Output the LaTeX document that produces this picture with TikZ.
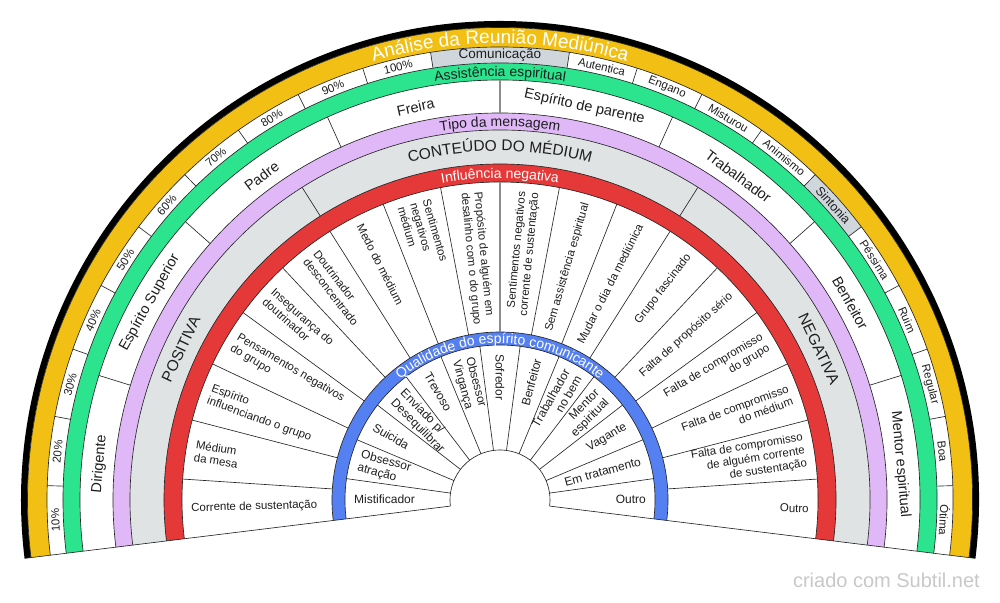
\documentclass[tikz,border=0pt]{standalone}
\usepackage{fontspec}
\setmainfont{Liberation Sans}
\usetikzlibrary{decorations.text}
\definecolor{cYel}{HTML}{F2C014}
\definecolor{cGrn}{HTML}{2CE48E}
\definecolor{cPur}{HTML}{E0B8F8}
\definecolor{cGry}{HTML}{DFE3E3}
\definecolor{cHdr}{HTML}{CFD6DC}
\definecolor{cRed}{HTML}{E53838}
\definecolor{cBlu}{HTML}{5580F2}
\definecolor{cTxt}{HTML}{1E1E1E}
\definecolor{cWm}{HTML}{C8C8C8}
\newcommand{\annfill}[5]{\fill[#5] (#1:#4) arc[start angle=#1, end angle=#2, radius=#4] -- (#2:#3) arc[start angle=#2, end angle=#1, radius=#3] -- cycle;}
\newcommand{\arctext}[4]{\path[decorate, decoration={text along path, text={|\fontsize{#2}{#2}\selectfont|#4}, text align=center, text color=#3}] (175:#1) arc[start angle=175, end angle=5, radius=#1];}
\begin{document}
\begin{tikzpicture}[x=1pt,y=1pt,
 ln/.style={line width=0.65pt, draw=black!85},
 midln/.style={line width=1.1pt, draw=black!45},
 lbl/.style={text=cTxt, inner sep=0pt},
 pct/.style={lbl, font=\fontsize{11.5}{12}\selectfont},
 pers/.style={lbl, font=\fontsize{14.5}{16}\selectfont},
 infl/.style={lbl, font=\fontsize{11.5}{13}\selectfont},
 spir/.style={lbl, font=\fontsize{12}{13.5}\selectfont}]
\useasboundingbox (-500,-102) rectangle (500,500);

% ---- ring fills
\annfill{-7}{187}{472.5}{479}{black}
\annfill{-7}{187}{453}{472.5}{cYel}
\annfill{98.818}{81.182}{437}{453}{cHdr}
\annfill{45.909}{37.091}{437}{453}{cHdr}
\annfill{-7}{187}{420}{437}{cGrn}
\annfill{-7}{187}{370}{387}{cPur}
\annfill{-7}{187}{336}{370}{cGry}
\annfill{-7}{187}{318}{336}{cRed}
\annfill{-7}{187}{155}{168}{cBlu}

% ---- ring outlines
\foreach \r in {50,155,168,318,336,370,387,420,437,453,472.5}
  \draw[ln] (-7:\r) arc[start angle=-7, end angle=187, radius=\r];
\draw[ln] (-7:50) -- (-7:479);
\draw[ln] (187:50) -- (187:479);

% ---- dividers
\foreach \k in {1,...,10,12,13,...,21}
  \draw[ln] ({187-\k*194/22}:437) -- ({187-\k*194/22}:453);
\foreach \k in {1,2,3,5,6,7}
  \draw[ln] ({187-\k*24.25}:387) -- ({187-\k*24.25}:420);
\draw[midln] (90:387) -- (90:420);
\draw[ln] (122.333:336) -- (122.333:370);
\draw[ln] (57.667:336) -- (57.667:370);
\foreach \k in {1,...,8,10,11,...,17}
  \draw[ln] ({187-\k*194/18}:168) -- ({187-\k*194/18}:318);
\draw[midln] (90:168) -- (90:318);
\foreach \k in {1,...,12}
  \draw[ln] ({187-\k*194/13}:50) -- ({187-\k*194/13}:155);

% ---- curved headers
\arctext{456.5}{19}{white}{Análise da Reunião Mediúnica}
\arctext{423.5}{14}{cTxt}{Assistência espiritual}
\arctext{373.5}{14}{cTxt}{Tipo da mensagem}
\arctext{349}{15.5}{cTxt}{CONTEÚDO DO MÉDIUM}
\arctext{322}{14}{white}{Influência negativa}
\arctext{156.5}{14}{white}{Qualidade do espírito comunicante}

% ---- percent ring
\foreach \p [count=\k] in {10,20,...,100}{
  \pgfmathsetmacro\a{187-(\k-0.5)*194/22}
  \node[pct, rotate=\a-90] (pc\k) at (\a:445) {\p\%};
}
\node[lbl, font=\fontsize{13.5}{14}\selectfont] (com) at (90:444.5) {Comunicação};
\foreach \t/\j [count=\k] in {Autentica/12.5, Engano/13.5, Misturou/14.5, Animismo/15.5, Péssima/17.5, Ruim/18.5, Regular/19.5, Boa/20.5, Ótima/21.5}{
  \pgfmathsetmacro\a{187-\j*194/22}
  \node[pct, rotate=\a-90] (pr\k) at (\a:445) {\t};
}
\node[lbl, font=\fontsize{12.5}{13}\selectfont, rotate={187-16.5*194/22-90}] (sin) at ({187-16.5*194/22}:445) {Sintonia};

% ---- person ring
\foreach \t [count=\k] in {Dirigente, Espírito Superior, Padre, Freira, Espírito de parente, Trabalhador, Benfeitor, Mentor espiritual}{
  \pgfmathsetmacro\a{187-(\k-0.5)*24.25}
  \node[pers, rotate=\a-90] (ps\k) at (\a:402) {\t};
}

% ---- content ring
\node[lbl, font=\fontsize{15.5}{16}\selectfont, rotate=64.667] (pos) at (154.667:353) {POSITIVA};
\node[lbl, font=\fontsize{15.5}{16}\selectfont, rotate=-64.667] (neg) at (25.333:353) {NEGATIVA};

% ---- influence ring
\foreach \t [count=\k] in {Corrente de sustentação, Médium\\da mesa, Espírito\\influenciando o grupo, Pensamentos negativos\\do grupo, Insegurança do\\doutrinador, Doutrinador\\desconcentrado, Medo do médium, Sentimentos\\negativos\\médium, Propósito de alguém em\\desalinho com o do grupo}{
  \pgfmathsetmacro\a{187-(\k-0.5)*194/18}
  \node[infl, anchor=west, align=left, rotate=\a-180] (il\k) at (\a:309) {\t};
}
\foreach \t [count=\k] in {Sentimentos negativos\\corrente de sustentação, Sem assistência espiritual, Mudar o dia da mediúnica, Grupo fascinado, Falta de propósito sério, Falta de compromisso\\do grupo, Falta de compromisso\\do médium, Falta de compromisso\\de alguém corrente\\de sustentação, Outro}{
  \pgfmathsetmacro\a{187-(\k+8.5)*194/18}
  \node[infl, anchor=east, align=right, rotate=\a] (ir\k) at (\a:309) {\t};
}

% ---- spirit ring
\foreach \t [count=\k] in {Mistificador, Obsessor\\atração, Suicida, Enviado p/\\Desequilibrar, Trevoso, Obsessor\\Vingança, Sofredor}{
  \pgfmathsetmacro\a{187-(\k-0.5)*194/13}
  \node[spir, anchor=west, align=left, rotate=\a-180] (sl\k) at (\a:146) {\t};
}
\foreach \t [count=\k] in {Benfeitor, Trabalhador\\no bem, Mentor\\espiritual, Vagante, Em tratamento, Outro}{
  \pgfmathsetmacro\a{187-(\k+6.5)*194/13}
  \node[spir, anchor=east, align=right, rotate=\a] (sr\k) at (\a:146) {\t};
}

% ---- watermark
\node[anchor=base east, inner sep=0pt, text=cWm, font=\fontsize{20}{20}\selectfont] (wm) at (480,-87) {criado com Subtil.net};
\end{tikzpicture}
\end{document}
